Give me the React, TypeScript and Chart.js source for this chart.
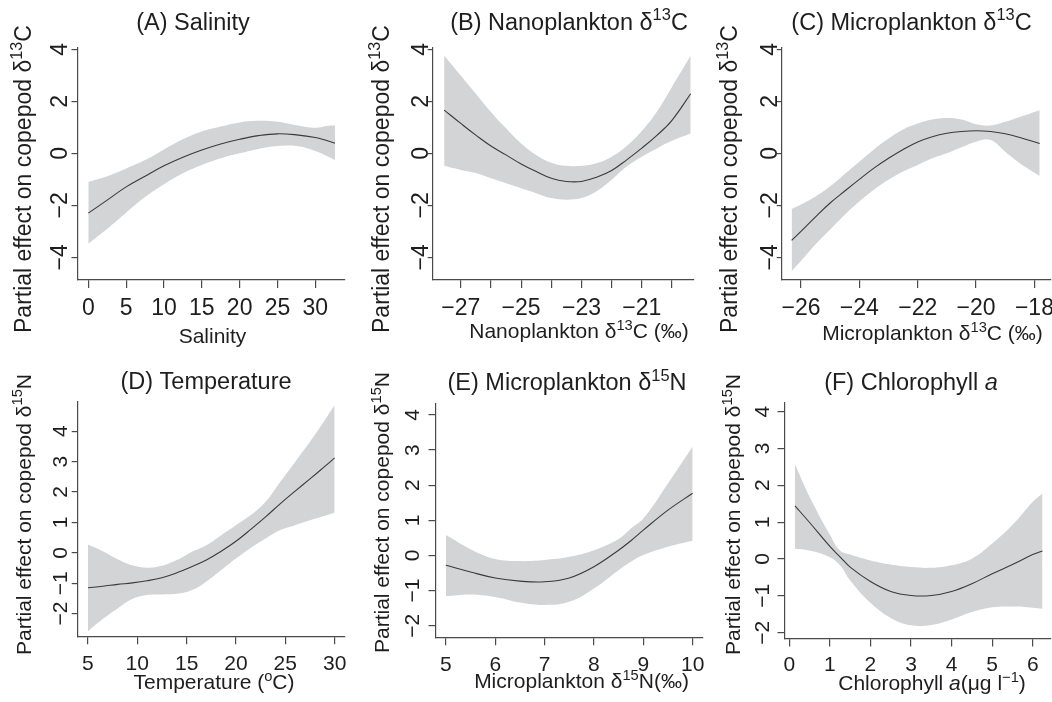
import React, { useEffect, useRef } from 'react';
import { Chart, registerables } from 'chart.js';

Chart.register(...registerables);

const FONT = '"Liberation Sans", Arial, Helvetica, sans-serif';
const W = 1052;
const H = 702;
const YW = 20;
const XH = 55;
const TEXT = '#1e1e1e';
const AXIS = '#4a4a4a';
const LINE = '#3a3a3a';
const BAND = '#d3d4d6';

// ---------- (A) Salinity ----------
const aX = [0, 2.5, 5, 7.5, 10, 12.5, 15, 17.5, 20, 22.5, 25, 27.5, 30, 31.5, 32.6];
const aFit = [-2.3, -1.8, -1.29, -0.88, -0.48, -0.15, 0.13, 0.36, 0.54, 0.68, 0.75, 0.71, 0.61, 0.49, 0.39];
const aUpper = [-1.1, -0.88, -0.58, -0.26, 0.15, 0.54, 0.84, 1.03, 1.19, 1.25, 1.21, 1.08, 0.98, 1.05, 1.08];
const aLower = [-3.48, -2.9, -2.28, -1.68, -1.19, -0.77, -0.45, -0.19, 0.0, 0.17, 0.28, 0.28, 0.09, -0.1, -0.26];
const aXTicks = [0, 5, 10, 15, 20, 25, 30];

// ---------- (B) Nanoplankton d13C ----------
const bX = [-27.55, -27, -26.5, -26, -25.5, -25, -24.5, -24, -23.5, -23, -22.5, -22, -21.5, -21, -20.5, -20, -19.38];
const bFit = [1.66, 1.15, 0.7, 0.28, -0.06, -0.41, -0.7, -0.96, -1.08, -1.08, -0.92, -0.66, -0.25, 0.2, 0.69, 1.27, 2.29];
const bUpper = [3.76, 2.99, 2.29, 1.59, 0.96, 0.38, -0.06, -0.36, -0.48, -0.48, -0.38, -0.13, 0.28, 0.86, 1.6, 2.55, 3.76];
const bLower = [-0.48, -0.64, -0.76, -0.96, -1.15, -1.34, -1.53, -1.72, -1.78, -1.72, -1.46, -1.02, -0.51, -0.13, 0.19, 0.48, 0.76];
const bXTicks = [-27, -26, -25, -24, -23, -22, -21, -20];
const bXLabels = [-27, -25, -23, -21];

// ---------- (C) Microplankton d13C ----------
const cX = [-26.32, -26, -25.5, -25, -24.5, -24, -23.5, -23, -22.5, -22, -21.5, -21, -20.5, -20, -19.5, -19, -18.5, -17.82];
const cFit = [-3.35, -3.0, -2.44, -1.91, -1.45, -1.0, -0.57, -0.19, 0.15, 0.44, 0.64, 0.77, 0.84, 0.87, 0.84, 0.75, 0.61, 0.38];
const cUpper = [-2.14, -1.97, -1.66, -1.27, -0.79, -0.32, 0.15, 0.57, 0.92, 1.15, 1.3, 1.36, 1.3, 1.12, 1.07, 1.21, 1.4, 1.66];
const cLower = [-4.52, -4.14, -3.5, -2.93, -2.36, -1.85, -1.4, -1.02, -0.7, -0.45, -0.19, 0.0, 0.23, 0.45, 0.51, 0.06, -0.38, -0.87];
const cXTicks = [-26, -24, -22, -20, -18];

// ---------- (D) Temperature ----------
const dX = [5, 6.5, 8, 9.5, 11, 12.5, 14, 15.5, 17, 18.5, 20, 21.5, 23, 24.5, 26, 27.5, 29, 30];
const dFit = [-1.15, -1.1, -1.04, -0.99, -0.92, -0.82, -0.66, -0.46, -0.24, 0.05, 0.38, 0.77, 1.18, 1.62, 2.03, 2.43, 2.84, 3.12];
const dUpper = [0.27, 0.05, -0.21, -0.41, -0.49, -0.43, -0.24, 0.03, 0.25, 0.58, 0.91, 1.24, 1.68, 2.34, 2.99, 3.65, 4.36, 4.86];
const dLower = [-2.58, -2.18, -1.83, -1.52, -1.39, -1.37, -1.35, -1.23, -0.95, -0.57, -0.19, 0.16, 0.47, 0.75, 0.91, 1.07, 1.22, 1.32];
const dXTicks = [5, 10, 15, 20, 25, 30];

// ---------- (E) Microplankton d15N ----------
const eX = [5, 5.5, 6, 6.5, 7, 7.5, 8, 8.5, 8.75, 9, 9.5, 10];
const eFit = [-0.28, -0.47, -0.64, -0.73, -0.75, -0.64, -0.32, 0.15, 0.42, 0.72, 1.29, 1.77];
const eUpper = [0.58, 0.18, -0.1, -0.16, -0.13, -0.04, 0.15, 0.47, 0.77, 1.05, 2.05, 3.1];
const eLower = [-1.16, -1.11, -1.18, -1.34, -1.41, -1.32, -0.94, -0.42, -0.18, 0.01, 0.25, 0.42];
const eXTicks = [5, 6, 7, 8, 9, 10];

// ---------- (F) Chlorophyll a ----------
const fX = [0.14, 0.5, 1, 1.25, 1.5, 2, 2.5, 3, 3.5, 4, 4.5, 5, 5.5, 6, 6.24];
const fFit = [1.44, 0.99, 0.34, 0.06, -0.22, -0.61, -0.88, -0.99, -0.99, -0.88, -0.67, -0.4, -0.15, 0.12, 0.22];
const fUpper = [2.57, 1.69, 0.66, 0.23, 0.12, -0.04, -0.15, -0.22, -0.24, -0.17, 0.01, 0.42, 0.92, 1.55, 1.78];
const fLower = [0.28, 0.23, 0.05, -0.17, -0.58, -1.19, -1.6, -1.8, -1.79, -1.64, -1.44, -1.31, -1.29, -1.32, -1.35];
const fXTicks = [0, 1, 2, 3, 4, 5, 6];

const topYTicks = [-4, -2, 0, 2, 4];
const bottomYTicks = [-2, -1, 0, 1, 2, 3, 4];

type Piece = { t: string; sup?: boolean; it?: boolean };

const yTitleC: Piece[] = [{ t: 'Partial effect on copepod \u03b4' }, { t: '13', sup: true }, { t: 'C' }];
const yTitleN: Piece[] = [{ t: 'Partial effect on copepod \u03b4' }, { t: '15', sup: true }, { t: 'N' }];

const titleA: Piece[] = [{ t: '(A) Salinity' }];
const titleB: Piece[] = [{ t: '(B) Nanoplankton \u03b4' }, { t: '13', sup: true }, { t: 'C' }];
const titleC: Piece[] = [{ t: '(C) Microplankton \u03b4' }, { t: '13', sup: true }, { t: 'C' }];
const titleD: Piece[] = [{ t: '(D) Temperature' }];
const titleE: Piece[] = [{ t: '(E) Microplankton \u03b4' }, { t: '15', sup: true }, { t: 'N' }];
const titleF: Piece[] = [{ t: '(F) Chlorophyll ' }, { t: 'a', it: true }];

const xTitleA: Piece[] = [{ t: 'Salinity' }];
const xTitleB: Piece[] = [{ t: 'Nanoplankton \u03b4' }, { t: '13', sup: true }, { t: 'C (\u2030)' }];
const xTitleC: Piece[] = [{ t: 'Microplankton \u03b4' }, { t: '13', sup: true }, { t: 'C (\u2030)' }];
const xTitleD: Piece[] = [{ t: 'Temperature (' }, { t: 'o', sup: true }, { t: 'C)' }];
const xTitleE: Piece[] = [{ t: 'Microplankton \u03b4' }, { t: '15', sup: true }, { t: 'N(\u2030)' }];
const xTitleF: Piece[] = [{ t: 'Chlorophyll ' }, { t: 'a', it: true }, { t: '(\u03bcg l' }, { t: '\u22121', sup: true }, { t: ')' }];

const fmt = (v: number) => (v < 0 ? '\u2212' + Math.abs(v) : String(v));

function drawRich(ctx: CanvasRenderingContext2D, pieces: Piece[], size: number, x: number, y: number, align: 'center' | 'left') {
  const font = (p: Piece) => `${p.it ? 'italic ' : ''}${p.sup ? size * 0.7 : size}px ${FONT}`;
  const widths = pieces.map((p) => {
    ctx.font = font(p);
    return ctx.measureText(p.t).width;
  });
  const total = widths.reduce((a, b) => a + b, 0);
  let cx = align === 'center' ? x - total / 2 : x;
  ctx.textAlign = 'left';
  ctx.textBaseline = 'alphabetic';
  pieces.forEach((p, i) => {
    ctx.font = font(p);
    ctx.fillText(p.t, cx, p.sup ? y - size * 0.4 : y);
    cx += widths[i];
  });
}

const topRow = { T: 48, B: 280, yMin: -4.87, yMax: 4.05, tickSize: 23, xTickLen: 8, xTickPad: 7, titleSize: 23.5, labSize: 21, yLabSize: 23, titleY: 29.5 };
const botRow = { tickSize: 21, xTickLen: 7.5, xTickPad: 7, titleSize: 23.5, labSize: 21, yLabSize: 21, titleY: 390 };

const panels = [
  {
    x: aX, fit: aFit, upper: aUpper, lower: aLower, xTicks: aXTicks, xLabels: aXTicks, yTicks: topYTicks,
    title: titleA, xTitle: xTitleA, yTitle: yTitleC,
    lay: { ...topRow, L: 78, R: 345, xMin: -1.36, xMax: 33.92, yTickLen: 6.5, yLabX: 67, titleX: 193, xTitleX: 212.5, xTitleY: 343, yTitleX: 31, yTitleY: 333 },
  },
  {
    x: bX, fit: bFit, upper: bUpper, lower: bLower, xTicks: bXTicks, xLabels: bXLabels, yTicks: topYTicks,
    title: titleB, xTitle: xTitleB, yTitle: yTitleC,
    lay: { ...topRow, L: 432.7, R: 694, xMin: -27.93, xMax: -19.27, yTickLen: 5, yLabX: 427.5, titleX: 569, xTitleX: 579, xTitleY: 338, yTitleX: 389.3, yTitleY: 333 },
  },
  {
    x: cX, fit: cFit, upper: cUpper, lower: cLower, xTicks: cXTicks, xLabels: cXTicks, yTicks: topYTicks,
    title: titleC, xTitle: xTitleC, yTitle: yTitleC,
    lay: { ...topRow, L: 781.7, R: 1050.5, xMin: -26.66, xMax: -17.45, yTickLen: 5, yLabX: 776.5, titleX: 911.5, xTitleX: 932.5, xTitleY: 340, yTitleX: 737.3, yTitleY: 333 },
  },
  {
    x: dX, fit: dFit, upper: dUpper, lower: dLower, xTicks: dXTicks, xLabels: dXTicks, yTicks: bottomYTicks,
    title: titleD, xTitle: xTitleD, yTitle: yTitleN,
    lay: { ...botRow, L: 77.7, R: 344.5, T: 401.7, B: 636.7, xMin: 3.96, xMax: 31, yMin: -2.76, yMax: 4.97, yTickLen: 6, yLabX: 67, titleX: 206, titleY: 389.3, xTitleX: 214, xTitleY: 689, yTitleX: 30.7, yTitleY: 655 },
  },
  {
    x: eX, fit: eFit, upper: eUpper, lower: eLower, xTicks: eXTicks, xLabels: eXTicks, yTicks: bottomYTicks,
    title: titleE, xTitle: xTitleE, yTitle: yTitleN,
    lay: { ...botRow, L: 436, R: 702.5, T: 403.3, B: 637.7, xMin: 4.8, xMax: 10.2, yMin: -2.34, yMax: 4.33, yTickLen: 7.5, yLabX: 419, titleX: 567, xTitleX: 581.5, xTitleY: 688, yTitleX: 389.3, yTitleY: 653 },
  },
  {
    x: fX, fit: fFit, upper: fUpper, lower: fLower, xTicks: fXTicks, xLabels: fXTicks, yTicks: bottomYTicks,
    title: titleF, xTitle: xTitleF, yTitle: yTitleN,
    lay: { ...botRow, L: 785, R: 1051, T: 402.7, B: 639, xMin: -0.106, xMax: 6.45, yMin: -2.17, yMax: 4.24, yTickLen: 7.5, yLabX: 769, titleX: 911, xTitleX: 932, xTitleY: 690, yTitleX: 740, yTitleY: 655, xTickPad: 6 },
  },
];

type PanelT = (typeof panels)[number];

function PanelChart({ p }: { p: PanelT }) {
  const ref = useRef<HTMLCanvasElement>(null);
  useEffect(() => {
    if (!ref.current) return;
    const L = p.lay;
    const pts = (ys: number[]) => p.x.map((x, i) => ({ x, y: ys[i] }));
    const textPlugin = {
      id: 'panelText',
      afterDraw(chart: any) {
        const ctx: CanvasRenderingContext2D = chart.ctx;
        const ys = chart.scales.y;
        ctx.save();
        ctx.fillStyle = TEXT;
        drawRich(ctx, p.title, L.titleSize, L.titleX, L.titleY, 'center');
        drawRich(ctx, p.xTitle, L.labSize, L.xTitleX, L.xTitleY, 'center');
        ctx.save();
        ctx.translate(L.yTitleX, L.yTitleY);
        ctx.rotate(-Math.PI / 2);
        drawRich(ctx, p.yTitle, L.yLabSize, 0, 0, 'left');
        ctx.restore();
        ctx.font = `${L.tickSize}px ${FONT}`;
        ctx.textAlign = 'center';
        ctx.textBaseline = 'alphabetic';
        p.yTicks.forEach((v) => {
          const py = ys.getPixelForValue(v);
          ctx.save();
          ctx.translate(L.yLabX, py);
          ctx.rotate(-Math.PI / 2);
          ctx.fillText(fmt(v), 0, 0);
          ctx.restore();
        });
        ctx.restore();
      },
    };
    const chart = new Chart(ref.current, {
      type: 'line',
      data: {
        datasets: [
          { data: pts(p.fit), borderColor: LINE, borderWidth: 1.1, pointRadius: 0, tension: 0.4, fill: false },
          { data: pts(p.upper), borderWidth: 0, borderColor: 'rgba(0,0,0,0)', backgroundColor: BAND, pointRadius: 0, tension: 0.4, fill: '+1' },
          { data: pts(p.lower), borderWidth: 0, borderColor: 'rgba(0,0,0,0)', backgroundColor: BAND, pointRadius: 0, tension: 0.4, fill: false },
        ],
      },
      options: {
        animation: false,
        responsive: false,
        events: [],
        layout: { padding: { left: L.L - YW, top: L.T, right: W - L.R, bottom: Math.max(0, H - L.B - XH) } },
        plugins: { legend: { display: false }, tooltip: { enabled: false }, title: { display: false } },
        scales: {
          x: {
            type: 'linear',
            position: 'bottom',
            min: L.xMin,
            max: L.xMax,
            afterBuildTicks: (s: any) => {
              s.ticks = p.xTicks.map((v) => ({ value: v }));
            },
            afterFit: (s: any) => {
              s.height = Math.min(XH, H - L.B);
              s.paddingLeft = 0;
              s.paddingRight = 0;
              s.paddingTop = 0;
              s.paddingBottom = 0;
            },
            grid: { display: true, drawOnChartArea: false, drawTicks: true, tickLength: L.xTickLen, color: AXIS, tickColor: AXIS, lineWidth: 1.2 },
            border: { display: true, color: AXIS, width: 1.2 },
            ticks: {
              autoSkip: false,
              maxRotation: 0,
              minRotation: 0,
              padding: L.xTickPad,
              color: TEXT,
              font: { family: FONT, size: L.tickSize },
              callback: (v: any) => (p.xLabels.includes(Number(v)) ? fmt(Number(v)) : ''),
            },
          },
          y: {
            type: 'linear',
            position: 'left',
            min: L.yMin,
            max: L.yMax,
            afterBuildTicks: (s: any) => {
              s.ticks = p.yTicks.map((v) => ({ value: v }));
            },
            afterFit: (s: any) => {
              s.width = YW;
              s.paddingLeft = 0;
              s.paddingRight = 0;
              s.paddingTop = 0;
              s.paddingBottom = 0;
            },
            grid: { display: true, drawOnChartArea: false, drawTicks: true, tickLength: L.yTickLen, color: AXIS, tickColor: AXIS, lineWidth: 1.2 },
            border: { display: true, color: AXIS, width: 1.2 },
            ticks: { display: false },
          },
        },
      },
      plugins: [textPlugin],
    } as any);
    return () => chart.destroy();
  }, [p]);
  return <canvas ref={ref} width={W} height={H} style={{ position: 'absolute', left: 0, top: 0 }} />;
}

export default function App() {
  return (
    <div style={{ position: 'absolute', left: 0, top: 0, width: W, height: H, background: '#fff', overflow: 'hidden' }}>
      {panels.map((p, i) => (
        <PanelChart key={i} p={p} />
      ))}
    </div>
  );
}
